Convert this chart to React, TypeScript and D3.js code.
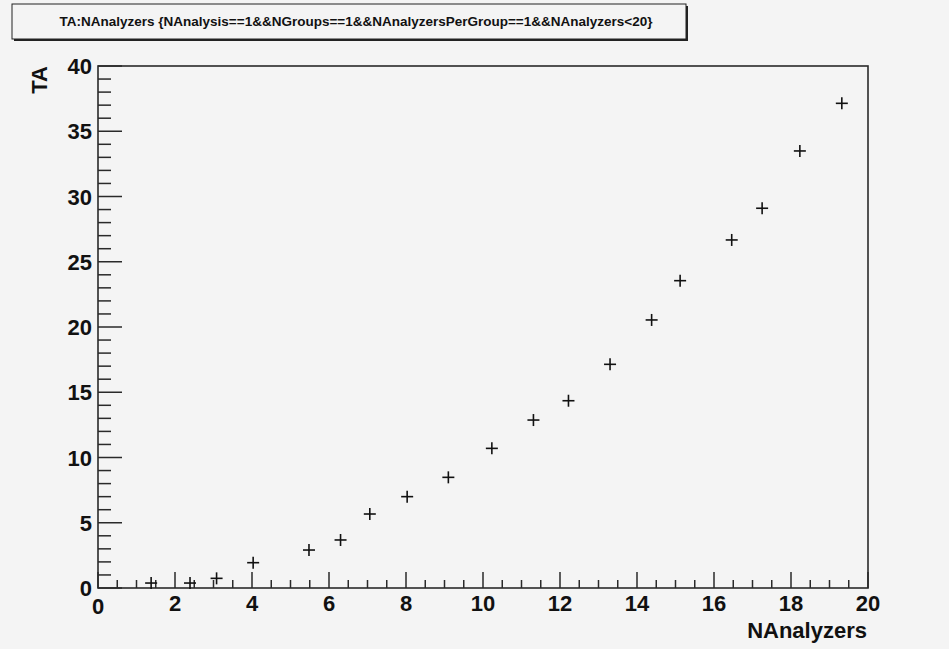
import React from 'react';
import * as d3 from 'd3';

const nAnalyzers = [1.38, 2.39, 3.08, 4.03, 5.48, 6.3, 7.06, 8.03, 9.1, 10.23, 11.31, 12.22, 13.3, 14.38, 15.12, 16.46, 17.25, 18.23, 19.32];
const taValues = [0.38, 0.38, 0.74, 1.94, 2.91, 3.68, 5.67, 7.0, 8.48, 10.7, 12.87, 14.35, 17.14, 20.54, 23.55, 26.67, 29.1, 33.49, 37.14];
const xTicks = [0, 2, 4, 6, 8, 10, 12, 14, 16, 18, 20];
const yTicks = [0, 5, 10, 15, 20, 25, 30, 35, 40];

const title = 'TA:NAnalyzers {NAnalysis==1&&NGroups==1&&NAnalyzersPerGroup==1&&NAnalyzers<20}';

const W = 949;
const H = 649;
const frame = { left: 98, right: 868, top: 66, bottom: 588 };
const font = '"Liberation Sans", Arial, Helvetica, sans-serif';
const axisColor = '#2a2a2a';

const App = () => {
  const x = d3.scaleLinear().domain([0, 20]).range([frame.left, frame.right]);
  const y = d3.scaleLinear().domain([0, 40]).range([frame.bottom, frame.top]);
  const xMinor = d3.range(0, 20.001, 0.5).filter(v => !xTicks.includes(v));
  const yMinor = d3.range(0, 40.001, 1).filter(v => !yTicks.includes(v));
  const pts = nAnalyzers.map((v, i) => [x(v), y(taValues[i])]);

  return (
    <div style={{ position: 'fixed', left: 0, top: 0, width: W, height: H, background: '#f4f4f4' }}>
      <svg width={W} height={H} style={{ display: 'block', fontFamily: font }}>
        <rect width={W} height={H} fill="#f4f4f4" />

        {/* title box with shadow */}
        <rect x={14} y={6} width={674} height={35} fill="#222" />
        <rect x={12} y={4} width={674} height={35} fill="#f4f4f4" stroke="#222" strokeWidth={1} />
        <text x={356} y={26} textAnchor="middle" fontSize={13.5} fontWeight="bold" fill="#111">{title}</text>

        {/* frame */}
        <rect x={frame.left} y={frame.top} width={frame.right - frame.left} height={frame.bottom - frame.top}
          fill="none" stroke={axisColor} strokeWidth={1.6} />

        {/* x ticks */}
        {xTicks.map(v => (
          <line key={'xm' + v} x1={x(v)} x2={x(v)} y1={frame.bottom} y2={frame.bottom - 16} stroke={axisColor} strokeWidth={1.5} />
        ))}
        {xMinor.map(v => (
          <line key={'xn' + v} x1={x(v)} x2={x(v)} y1={frame.bottom} y2={frame.bottom - 8} stroke={axisColor} strokeWidth={1.5} />
        ))}
        {xTicks.map(v => (
          <text key={'xl' + v} x={x(v)} y={v === 0 ? 614 : 611} textAnchor="middle" fontSize={22} fontWeight="bold" fill="#111">{v}</text>
        ))}

        {/* y ticks */}
        {yTicks.map(v => (
          <line key={'ym' + v} x1={frame.left} x2={frame.left + 24} y1={y(v)} y2={y(v)} stroke={axisColor} strokeWidth={1.5} />
        ))}
        {yMinor.map(v => (
          <line key={'yn' + v} x1={frame.left} x2={frame.left + 13} y1={y(v)} y2={y(v)} stroke={axisColor} strokeWidth={1.5} />
        ))}
        {yTicks.map(v => (
          <text key={'yl' + v} x={92} y={y(v) + 8} textAnchor="end" fontSize={22} fontWeight="bold" fill="#111">{v}</text>
        ))}

        {/* axis titles */}
        <text x={867} y={638} textAnchor="end" fontSize={22} fontWeight="bold" fill="#111">NAnalyzers</text>
        <text transform={`translate(47,${frame.top}) rotate(-90)`} textAnchor="end" fontSize={22} fontWeight="bold" fill="#111">TA</text>

        {/* markers */}
        {pts.map(([px, py], i) => (
          <g key={'p' + i} stroke="#111" strokeWidth={1.6}>
            <line x1={px - 6} x2={px + 6} y1={py} y2={py} />
            <line x1={px} x2={px} y1={py - 6} y2={py + 6} />
          </g>
        ))}
      </svg>
    </div>
  );
};

export default App;
